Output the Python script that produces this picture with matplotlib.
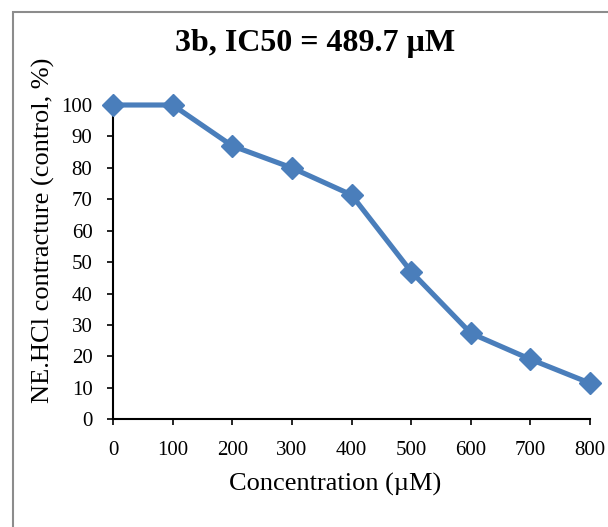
import matplotlib
matplotlib.use("Agg")
import matplotlib.pyplot as plt
from matplotlib.patches import Rectangle

# Dose-response data
concentration = [0, 100, 200, 300, 400, 500, 600, 700, 800]
contracture = [100, 100, 87, 80, 71.4, 47, 27.4, 19.1, 11.5]
x_ticks = [0, 100, 200, 300, 400, 500, 600, 700, 800]
y_ticks = [0, 10, 20, 30, 40, 50, 60, 70, 80, 90, 100]

W, H = 608, 527
DPI = 100
plt.rcParams["font.family"] = ["Liberation Serif", "DejaVu Serif"]

fig = plt.figure(figsize=(W / DPI, H / DPI), dpi=DPI)

# chart-area frame
fig.patches.append(Rectangle((12.7 / W, -0.1), 1.2, 1 - 11.7 / H + 0.1,
                             transform=fig.transFigure, fill=False,
                             edgecolor="#8c8c8c", linewidth=1.5))

left, right = 113 / W, 590 / W
bottom, top = (H - 419.3) / H, (H - 105) / H
ax = fig.add_axes([left, bottom, right - left, top - bottom])

color = "#4a7ebb"
ax.plot(concentration, contracture, color=color, linewidth=3.7,
        marker="D", markersize=11, markerfacecolor=color,
        markeredgecolor=color, clip_on=False, zorder=3)

ax.set_xlim(0, 800)
ax.set_ylim(0, 100)
ax.set_xticks(x_ticks)
ax.set_yticks(y_ticks)
ax.tick_params(axis="both", direction="out", length=4.3, width=1.2,
               labelsize=15, colors="black")
ax.tick_params(axis="x", pad=11)
ax.tick_params(axis="y", pad=10.5)
for side in ("top", "right"):
    ax.spines[side].set_visible(False)
for side in ("left", "bottom"):
    ax.spines[side].set_linewidth(1.5)

fig.text(315.5 / W, 1 - 43 / H, "3b, IC50 = 489.7 µM", ha="center",
         va="center", fontsize=23, fontweight="bold")
fig.text(335 / W, 1 - 484 / H, "Concentration (µM)", ha="center",
         va="center", fontsize=19)
fig.text(43 / W, 1 - 230 / H, "NE.HCl contracture (control, %)",
         ha="center", va="center", rotation=90, fontsize=19)

fig.savefig("out.png", dpi=DPI, facecolor="white")
